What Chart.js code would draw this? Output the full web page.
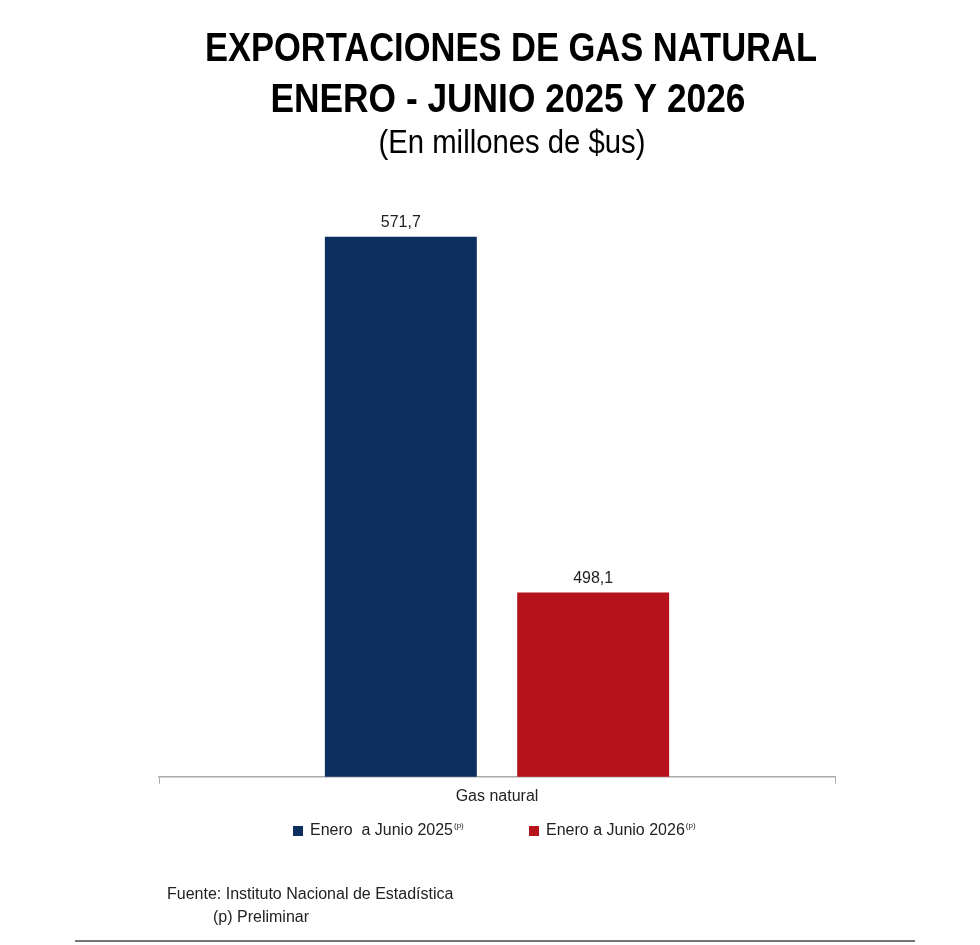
<!DOCTYPE html>
<html>
<head>
<meta charset="utf-8">
<script src="https://cdn.jsdelivr.net/npm/chart.js@4.4.1/dist/chart.umd.min.js"></script>
<style>
  html, body { margin: 0; padding: 0; background: #ffffff; }
  #wrap { position: relative; width: 980px; height: 945px; }
</style>
</head>
<body>
<div id="wrap"><canvas id="c" width="980" height="945"></canvas></div>
<script>
const categories = ["Gas natural"];
const seriesNames = ["Enero  a Junio 2025", "Enero a Junio 2026"];
const series2025 = [571.7];
const series2026 = [498.1];
const titleLines = ["EXPORTACIONES DE GAS NATURAL", "ENERO - JUNIO 2025 Y 2026"];
const subtitleText = "(En millones de $us)";
const footerLines = ["Fuente: Instituto Nacional de Estadística", "(p) Preliminar"];
const colors = ["#0c2f5f", "#b5121b"];

const FONT = "'Liberation Sans', Arial, sans-serif";

const titleBlock = {
  id: 'titleBlock',
  afterDraw(chart) {
    const ctx = chart.ctx;
    ctx.save();
    ctx.fillStyle = "#000";
    ctx.textAlign = "center";
    ctx.textBaseline = "alphabetic";
    ctx.font = "bold 41px " + FONT;
    ctx.fillText(titleLines[0], 511, 61, 612);
    ctx.fillText(titleLines[1], 508, 112, 475);
    ctx.font = "33px " + FONT;
    ctx.fillText(subtitleText, 512, 153, 267);
    ctx.restore();
  }
};

const valueLabels = {
  id: 'valueLabels',
  afterDatasetsDraw(chart) {
    const ctx = chart.ctx;
    ctx.save();
    ctx.font = "16px " + FONT;
    ctx.fillStyle = "#222";
    ctx.textAlign = "center";
    ctx.textBaseline = "alphabetic";
    chart.data.datasets.forEach((ds, i) => {
      chart.getDatasetMeta(i).data.forEach((bar, j) => {
        const v = ds.data[j];
        ctx.fillText(v.toFixed(1).replace('.', ','), bar.x, bar.y - 10, 42);
      });
    });
    ctx.restore();
  }
};

const extras = {
  id: 'extras',
  afterDraw(chart) {
    const ctx = chart.ctx;
    ctx.save();
    // legend
    const ly = 831;
    const sup = "(p)";
    const starts = [293, 529];
    chart.data.datasets.forEach((ds, i) => {
      const x = starts[i];
      ctx.fillStyle = ds.backgroundColor;
      ctx.fillRect(x, ly - 5, 10, 10);
      ctx.fillStyle = "#222";
      ctx.textAlign = "left";
      ctx.textBaseline = "middle";
      ctx.font = "16px " + FONT;
      ctx.fillText(ds.label, x + 17, ly, 143);
      const tw = Math.min(ctx.measureText(ds.label).width, 143);
      ctx.font = "8px " + FONT;
      ctx.fillText(sup, x + 17 + tw + 1, ly - 5);
    });
    // footer
    ctx.fillStyle = "#222";
    ctx.textAlign = "left";
    ctx.textBaseline = "alphabetic";
    ctx.font = "16px " + FONT;
    ctx.fillText(footerLines[0], 167, 899, 288);
    ctx.fillText(footerLines[1], 213, 922);
    // bottom rule
    ctx.strokeStyle = "#777";
    ctx.lineWidth = 2;
    ctx.beginPath();
    ctx.moveTo(75, 941);
    ctx.lineTo(915, 941);
    ctx.stroke();
    ctx.restore();
  }
};

new Chart(document.getElementById('c'), {
  type: 'bar',
  data: {
    labels: categories,
    datasets: [
      { label: seriesNames[0], data: series2025, backgroundColor: colors[0], barPercentage: 0.79, categoryPercentage: 0.569 },
      { label: seriesNames[1], data: series2026, backgroundColor: colors[1], barPercentage: 0.79, categoryPercentage: 0.569 }
    ]
  },
  options: {
    responsive: false,
    animation: false,
    devicePixelRatio: 1,
    layout: { padding: { left: 159, right: 145, top: 216, bottom: 136 } },
    plugins: {
      legend: { display: false },
      tooltip: { enabled: false },
      title: { display: false }
    },
    scales: {
      x: {
        offset: true,
        grid: { display: true, drawOnChartArea: false, offset: true, tickLength: 7, color: "#aaa", tickColor: "#aaa" },
        border: { display: true, color: "#aaa", width: 1.5 },
        ticks: { color: "#222", font: { family: FONT, size: 16 }, padding: 3 }
      },
      y: {
        display: false,
        min: 460,
        max: 576
      }
    }
  },
  plugins: [titleBlock, valueLabels, extras]
});
</script>
</body>
</html>
